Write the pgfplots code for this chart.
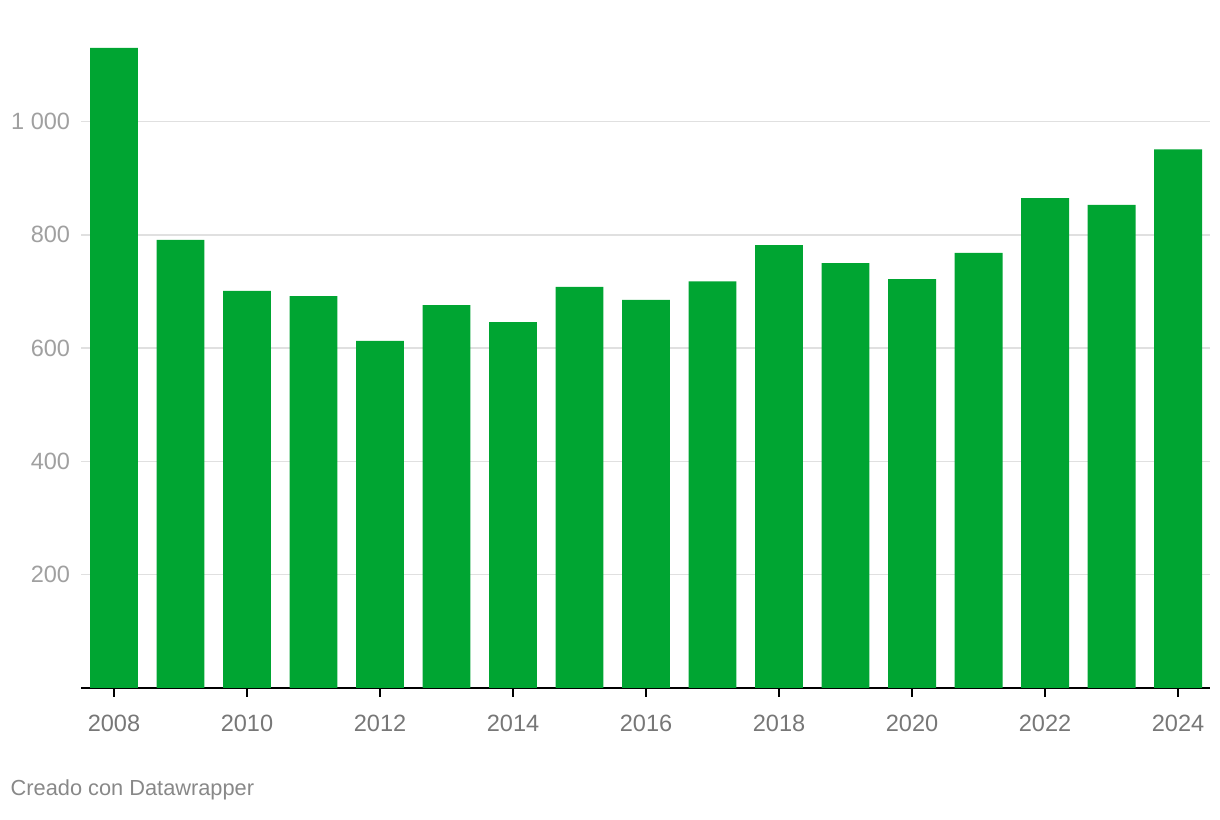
\documentclass[border=0pt]{standalone}
\usepackage{pgfplots}
\pgfplotsset{compat=1.18}
\usepackage{fontspec}
\setmainfont{Liberation Sans}
\definecolor{bargreen}{HTML}{00A532}
\definecolor{ylab}{HTML}{A0A0A0}
\definecolor{xlab}{HTML}{777777}
\definecolor{foot}{HTML}{888888}
\definecolor{gridc}{HTML}{E0E0E0}
\begin{document}
\begin{tikzpicture}
\path[use as bounding box] (0,0) rectangle (122mm,82mm);
\begin{axis}[
  at={(8.1mm,13.2mm)}, anchor=south west,
  scale only axis, width=112.9mm, height=64.8mm,
  xmin=2007.504, xmax=2024.48, ymin=0, ymax=1144,
  axis x line=bottom, axis y line=left,
  axis line style={-, black, line width=0.2mm},
  y axis line style={draw=none},
  ytick={200,400,600,800,1000},
  yticklabels={200,400,600,800,1 000},
  xtick={2008,2010,...,2024},
  xticklabels={2008,2010,2012,2014,2016,2018,2020,2022,2024},
  xtick align=outside,
  major tick length=0.9mm,
  x tick style={black, line width=0.15mm},
  y tick style={draw=none},
  ymajorgrids,
  grid style={gridc, line width=0.15mm},
  /pgf/number format/assume math mode=true,
  ticklabel style={font=\fontsize{6.7}{8}\selectfont},
  xticklabel style={text=xlab, yshift=-0.6mm},
  yticklabel style={text=ylab, anchor=east, xshift=0.6mm},
  ybar, bar width=0.72,
  clip=false,
]
\addplot[fill=bargreen, draw=none] coordinates {
(2008,1130) (2009,791) (2010,701) (2011,692) (2012,613) (2013,676)
(2014,646) (2015,708) (2016,685) (2017,718) (2018,782) (2019,750)
(2020,722) (2021,768) (2022,865) (2023,853) (2024,951)
};
\end{axis}
\node[anchor=base west, inner sep=0pt, text=foot, font=\fontsize{6.2}{7.5}\selectfont] at (1mm,2.4mm) {Creado con Datawrapper};
\end{tikzpicture}
\end{document}
